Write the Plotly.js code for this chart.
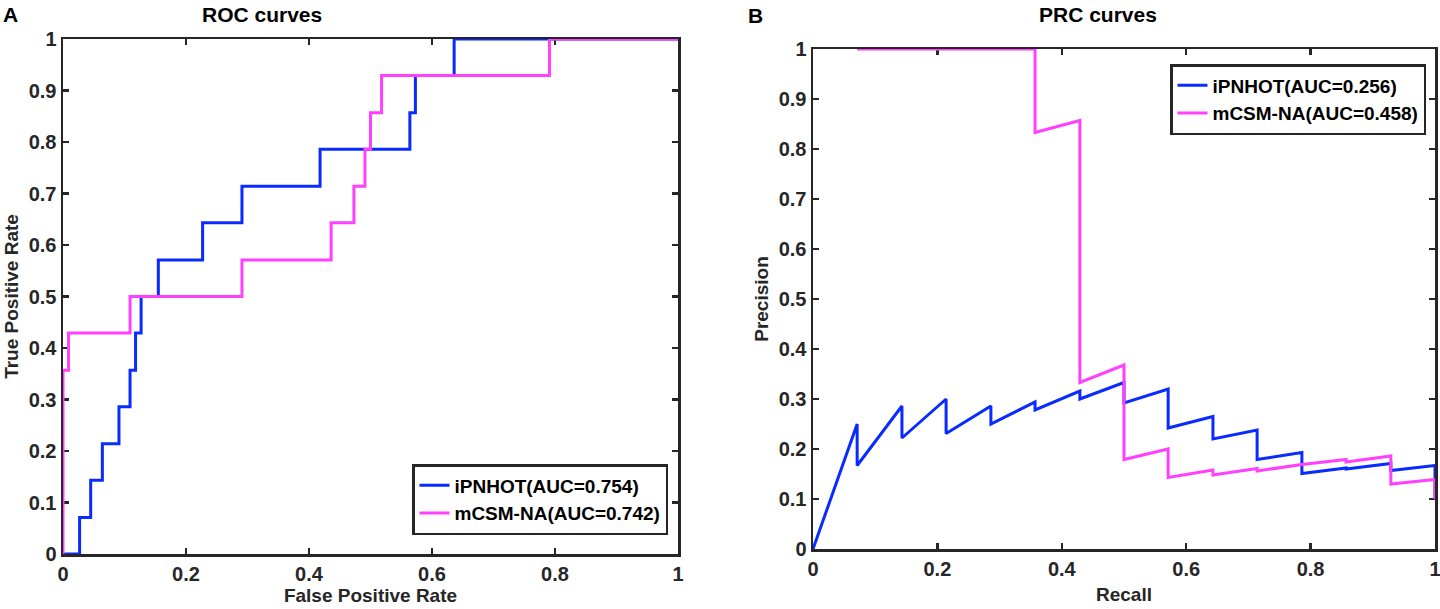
<!DOCTYPE html>
<html>
<head>
<meta charset="utf-8">
<script src="https://cdn.plot.ly/plotly-3.0.1.min.js"></script>
<style>
  html, body { margin: 0; padding: 0; background: #fff; }
  #chart { width: 1440px; height: 609px; }
</style>
</head>
<body>
<div id="chart"></div>
<script>
// ---------- Data ----------
// Panel A: ROC curves (False Positive Rate vs True Positive Rate)
const rocFprBlue = [0, 0.027, 0.045, 0.064, 0.091, 0.109, 0.118, 0.127, 0.155, 0.227, 0.291, 0.418, 0.564, 0.573, 0.636, 1];
const rocTprBlue = [0, 0.071, 0.143, 0.214, 0.286, 0.357, 0.429, 0.5, 0.571, 0.643, 0.714, 0.786, 0.857, 0.929, 1, 1];
const rocFprPink = [0, 0, 0.009, 0.109, 0.291, 0.436, 0.473, 0.491, 0.5, 0.518, 0.791, 1];
const rocTprPink = [0, 0.357, 0.429, 0.5, 0.571, 0.643, 0.714, 0.786, 0.857, 0.929, 1, 1];

// Panel B: PRC curves (Recall vs Precision)
const prcRecallBlue = [0, 0.071, 0.071, 0.143, 0.143, 0.214, 0.214, 0.286, 0.286, 0.357, 0.357, 0.429, 0.429, 0.5, 0.5, 0.571, 0.571, 0.643, 0.643, 0.714, 0.714, 0.786, 0.786, 0.857, 0.857, 0.929, 0.929, 1, 1];
const prcPrecBlue   = [0, 0.25, 0.167, 0.286, 0.222, 0.3, 0.231, 0.286, 0.25, 0.294, 0.278, 0.316, 0.3, 0.333, 0.292, 0.32, 0.242, 0.265, 0.22, 0.238, 0.179, 0.193, 0.151, 0.162, 0.16, 0.171, 0.157, 0.167, 0.1];
const prcRecallPink = [0.071, 0.357, 0.357, 0.429, 0.429, 0.5, 0.5, 0.571, 0.571, 0.643, 0.643, 0.714, 0.714, 0.786, 0.857, 0.857, 0.929, 0.929, 1, 1];
const prcPrecPink   = [1, 1, 0.833, 0.857, 0.333, 0.368, 0.179, 0.2, 0.143, 0.158, 0.148, 0.161, 0.156, 0.169, 0.179, 0.174, 0.186, 0.13, 0.139, 0.1];

// Legend labels
const rocNames = ["iPNHOT(AUC=0.754)", "mCSM-NA(AUC=0.742)"];
const prcNames = ["iPNHOT(AUC=0.256)", "mCSM-NA(AUC=0.458)"];

// Tick values
const tickX = [0, 0.2, 0.4, 0.6, 0.8, 1];
const tickY = [0, 0.1, 0.2, 0.3, 0.4, 0.5, 0.6, 0.7, 0.8, 0.9, 1];

// ---------- Styling ----------
const BLUE = "#0A2BFF";
const PINK = "#FF40FF";
const AXC = "#262626";
const FONT = "Liberation Sans, Arial, Helvetica, sans-serif";

const traces = [
  { x: rocFprBlue, y: rocTprBlue, name: rocNames[0], type: "scatter", mode: "lines",
    line: { color: BLUE, width: 3, shape: "hv" }, xaxis: "x", yaxis: "y", legend: "legend", cliponaxis: false },
  { x: rocFprPink, y: rocTprPink, name: rocNames[1], type: "scatter", mode: "lines",
    line: { color: PINK, width: 3, shape: "hv" }, xaxis: "x", yaxis: "y", legend: "legend", cliponaxis: false },
  { x: prcRecallBlue, y: prcPrecBlue, name: prcNames[0], type: "scatter", mode: "lines",
    line: { color: BLUE, width: 3 }, xaxis: "x2", yaxis: "y2", legend: "legend2", cliponaxis: false },
  { x: prcRecallPink, y: prcPrecPink, name: prcNames[1], type: "scatter", mode: "lines",
    line: { color: PINK, width: 3 }, xaxis: "x2", yaxis: "y2", legend: "legend2", cliponaxis: false }
];

function axis(domain, vals, titleText, anchor, standoff) {
  return {
    domain: domain, range: [0, 1], anchor: anchor,
    tickmode: "array", tickvals: vals, ticktext: vals.map(v => String(v)),
    ticks: "inside", ticklen: 6, tickwidth: 2.5, tickcolor: AXC,
    showline: true, linecolor: AXC, linewidth: 2.5, mirror: "ticks",
    showgrid: false, zeroline: false, layer: "below traces",
    ticklabeloverflow: "allow",
    tickfont: { family: FONT, size: 20, color: AXC, weight: "bold" },
    title: { text: titleText, font: { family: FONT, size: 19, color: AXC, weight: "bold" }, standoff: standoff },
    fixedrange: true
  };
}

const W = 1440, H = 609;
const layout = {
  width: W, height: H,
  margin: { l: 0, r: 0, t: 0, b: 0 },
  paper_bgcolor: "#ffffff", plot_bgcolor: "#ffffff",
  showlegend: true,
  xaxis:  axis([63 / W, 678 / W], tickX, "False Positive Rate", "y", 5),
  yaxis:  axis([(H - 554) / H, (H - 39) / H], tickY, "True Positive Rate", "x", 5),
  xaxis2: axis([813 / W, 1435 / W], tickX, "Recall", "y2", 9),
  yaxis2: axis([(H - 549) / H, (H - 49) / H], tickY, "Precision", "x2", 5),
  legend: {
    x: 412 / W, y: (H - 464) / H, xanchor: "left", yanchor: "top",
    bgcolor: "#ffffff", bordercolor: AXC, borderwidth: 2.5,
    font: { family: FONT, size: 19, color: "#000", weight: "bold" },
    itemwidth: 30, tracegroupgap: 0
  },
  legend2: {
    x: 1170 / W, y: (H - 64) / H, xanchor: "left", yanchor: "top",
    bgcolor: "#ffffff", bordercolor: AXC, borderwidth: 2.5,
    font: { family: FONT, size: 19, color: "#000", weight: "bold" },
    itemwidth: 30, tracegroupgap: 0
  },
  annotations: [
    { text: "ROC curves", x: 262 / W, y: (H - 15) / H, xref: "paper", yref: "paper",
      xanchor: "center", yanchor: "middle", showarrow: false,
      font: { family: FONT, size: 21, color: "#000", weight: "bold" } },
    { text: "PRC curves", x: 1098 / W, y: (H - 15) / H, xref: "paper", yref: "paper",
      xanchor: "center", yanchor: "middle", showarrow: false,
      font: { family: FONT, size: 21, color: "#000", weight: "bold" } },
    { text: "A", x: 1 / W, y: (H - 15) / H, xref: "paper", yref: "paper",
      xanchor: "left", yanchor: "middle", showarrow: false,
      font: { family: FONT, size: 21, color: "#000", weight: "bold" } },
    { text: "B", x: 746 / W, y: (H - 16) / H, xref: "paper", yref: "paper",
      xanchor: "left", yanchor: "middle", showarrow: false,
      font: { family: FONT, size: 21, color: "#000", weight: "bold" } }
  ]
};

Plotly.newPlot("chart", traces, layout, { displayModeBar: false, staticPlot: true });
</script>
</body>
</html>
